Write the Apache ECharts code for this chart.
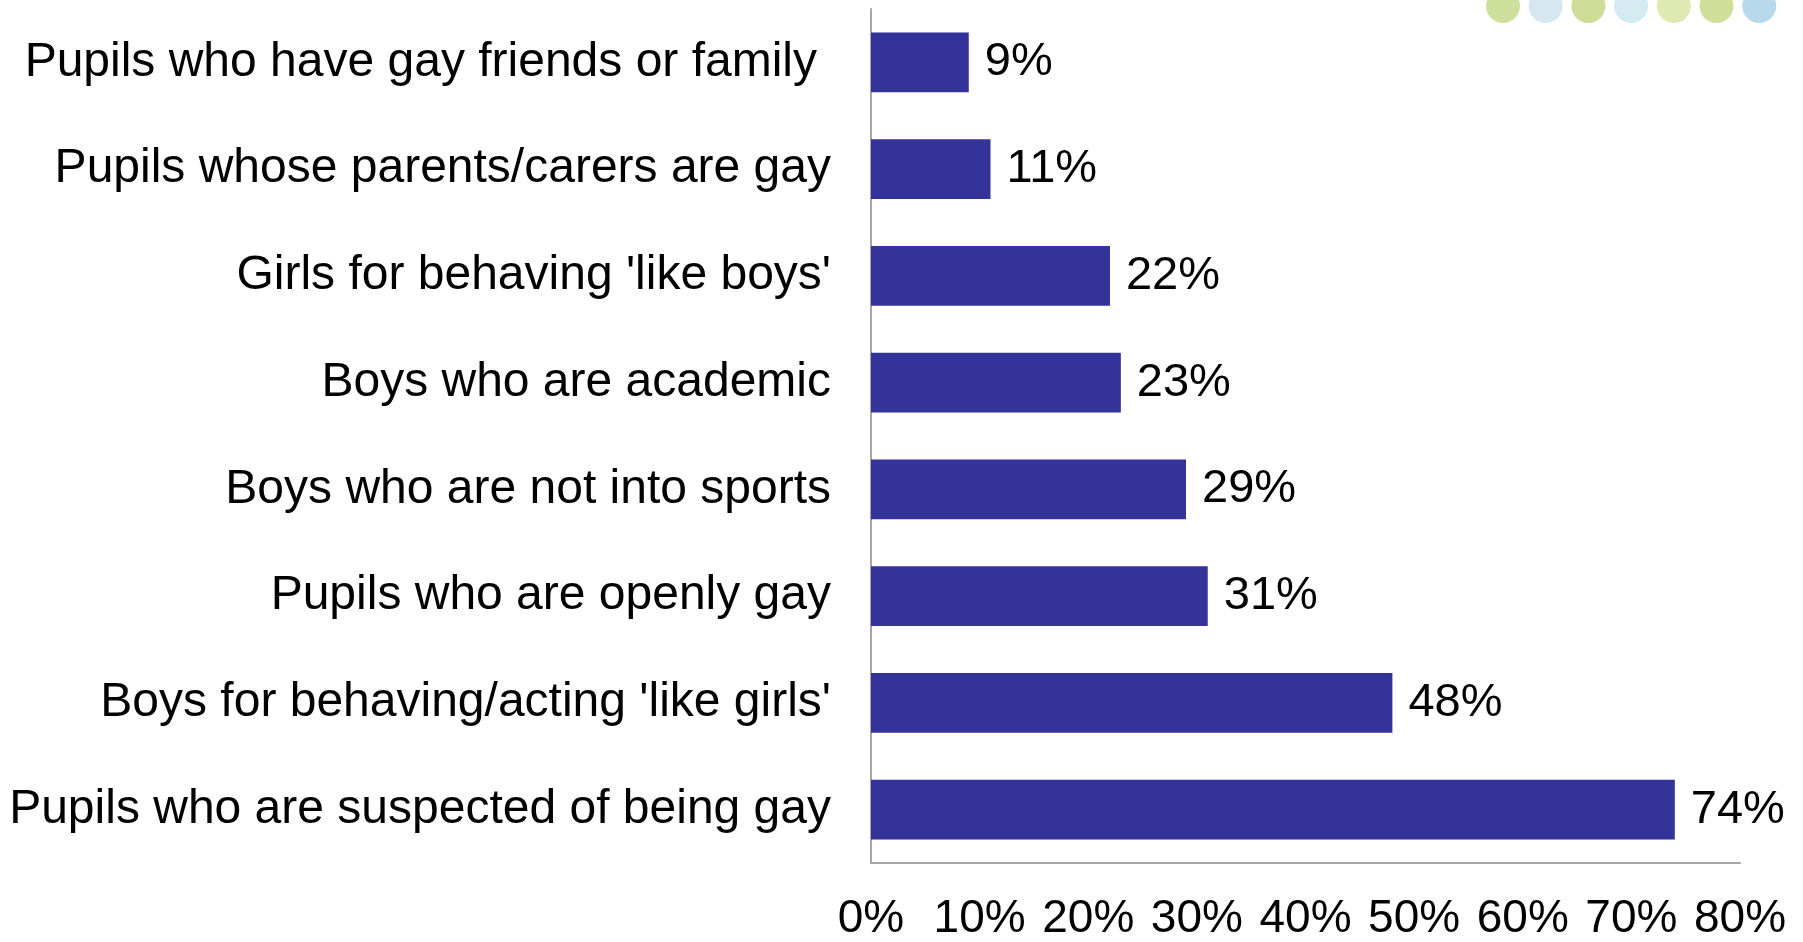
<!DOCTYPE html>
<html>
<head>
<meta charset="utf-8">
<script src="https://cdn.jsdelivr.net/npm/echarts@6/dist/echarts.min.js"></script>
<style>html,body{margin:0;padding:0;background:#fff;}#c{width:1803px;height:942px;}</style>
</head>
<body>
<div id="c"></div>
<script>
const categories = [
  "Pupils who have gay friends or family",
  "Pupils whose parents/carers are gay",
  "Girls for behaving 'like boys'",
  "Boys who are academic",
  "Boys who are not into sports",
  "Pupils who are openly gay",
  "Boys for behaving/acting 'like girls'",
  "Pupils who are suspected of being gay"
];
const values = [9, 11, 22, 23, 29, 31, 48, 74];
const axisMin = 0, axisMax = 80, axisStep = 10;
const dotColors = ["#cfdf9c", "#d5e8f0", "#cddc96", "#d4ebf2", "#dfe9b2", "#d0e09b", "#b8d9ec"];

const chart = echarts.init(document.getElementById('c'));
const font = "'Liberation Sans', Arial, sans-serif";
chart.setOption({
  animation: false,
  backgroundColor: '#fff',
  graphic: dotColors.map((c, i) => ({
    type: 'circle', shape: { cx: 1503 + i * 42.7, cy: 6, r: 17 },
    style: { fill: c }, silent: true
  })),
  grid: { left: 871, right: 63, top: 9, bottom: 61, containLabel: false },
  xAxis: {
    type: 'value', min: axisMin, max: axisMax, interval: axisStep,
    axisLine: { show: true, lineStyle: { color: '#a6a6a6', width: 2 } },
    axisTick: { show: false },
    splitLine: { show: false },
    axisLabel: { formatter: '{value}%', color: '#000', fontSize: 46, fontFamily: font, margin: 33 }
  },
  yAxis: {
    type: 'category', data: categories, inverse: true,
    axisLine: { show: true, lineStyle: { color: '#a6a6a6', width: 2 } },
    axisTick: { show: false },
    axisLabel: {
      color: '#000', fontSize: 48, fontFamily: font, margin: 40,
      formatter: (v, i) => i === 0 ? '{a|' + v + '}' : v,
      rich: { a: { fontSize: 48, fontFamily: font, color: '#000', padding: [0, 14, 0, 0] } }
    }
  },
  series: [{
    type: 'bar', data: values, barCategoryGap: '44%',
    itemStyle: { color: '#333399' },
    label: { show: true, position: 'right', distance: 16, formatter: '{c}%', color: '#000', fontSize: 47, fontFamily: font }
  }]
});
</script>
</body>
</html>
